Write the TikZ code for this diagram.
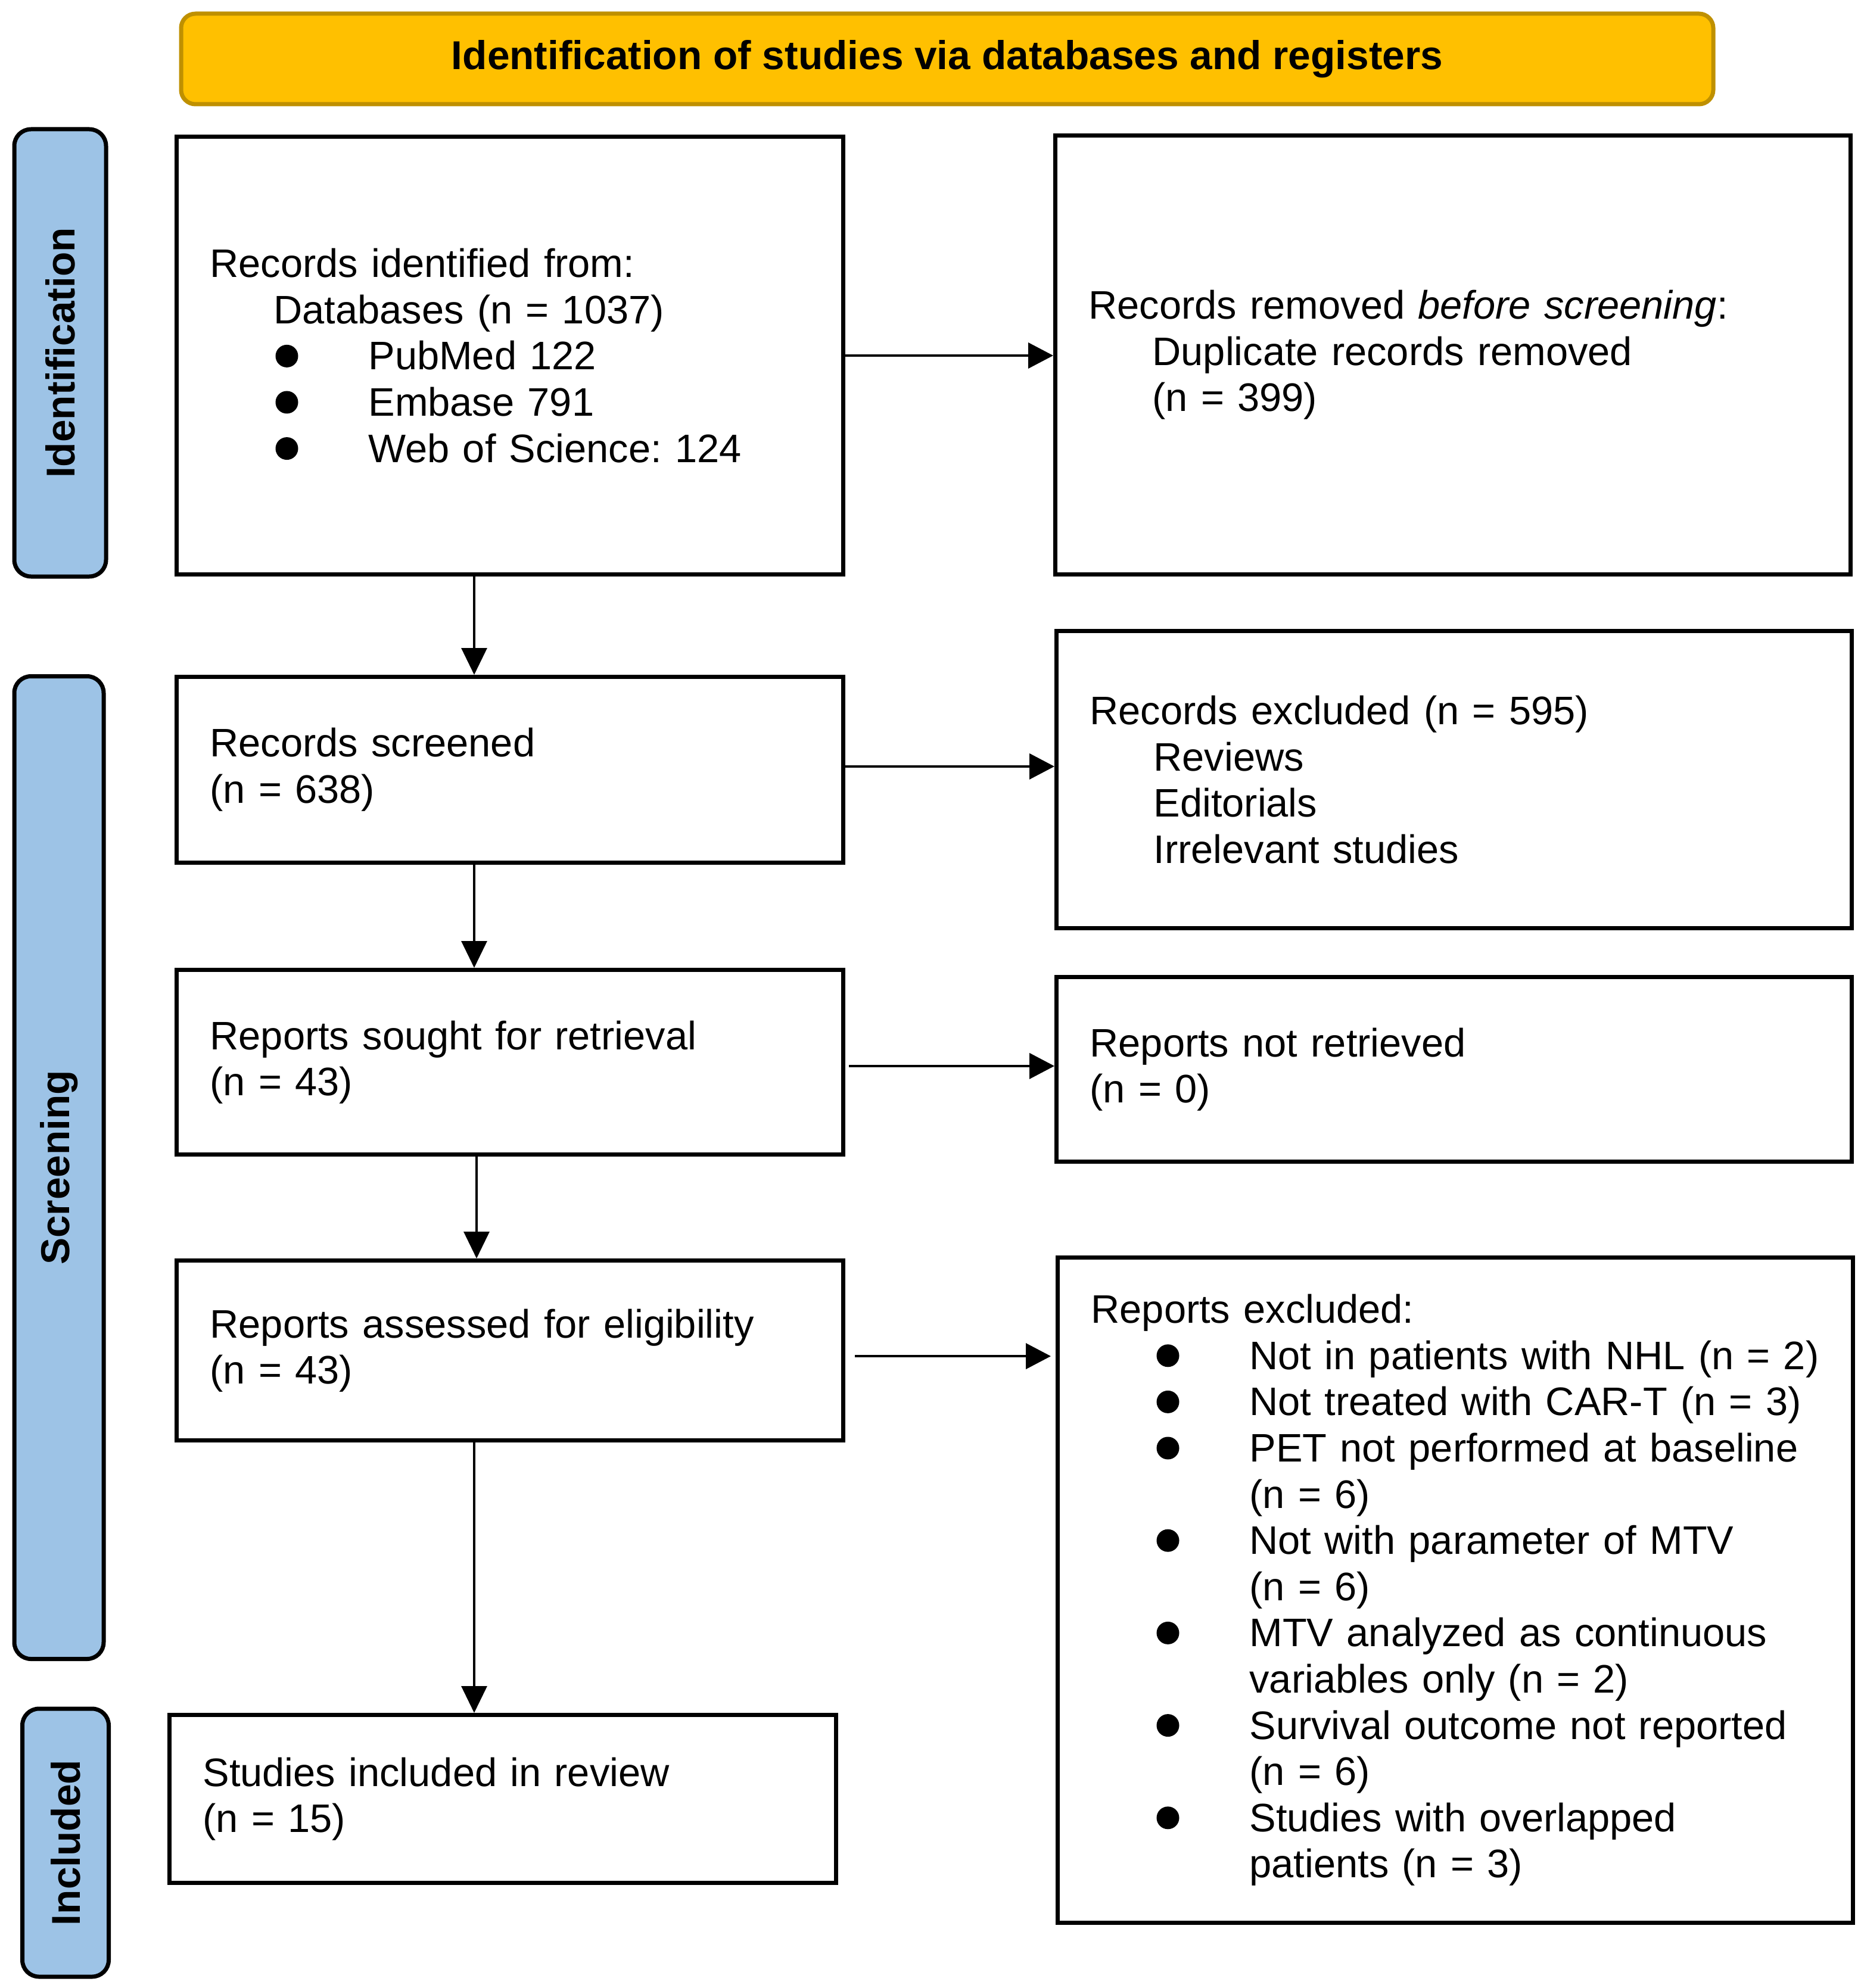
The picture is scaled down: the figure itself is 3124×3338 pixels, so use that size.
\documentclass[tikz,border=0pt]{standalone}
\usepackage{fontspec}
\setmainfont{Liberation Sans}
\usetikzlibrary{arrows.meta}
\definecolor{hdrfill}{HTML}{FFC000}
\definecolor{hdrline}{HTML}{BF9000}
\definecolor{sidefill}{HTML}{9DC3E6}
\frenchspacing
\newcommand{\bdot}{\tikz[baseline=0pt]\fill[black] (4.75pt,5.75pt) circle[radius=4.75pt];}
\newcommand{\bul}[1]{\hspace*{27.5pt}\makebox[39pt][l]{\bdot}\mbox{#1}}
\newcommand{\cont}[1]{\hspace*{66.5pt}\mbox{#1}}
\newcommand{\subl}[1]{\hspace*{26.75pt}\mbox{#1}}
\begin{document}
\begin{tikzpicture}[x=0.25pt,y=-0.25pt,
  every node/.style={font=\fontsize{16.7pt}{19.4pt}\selectfont},
  box/.style={draw=black, line width=1.75pt, fill=white, inner xsep=14pt, inner ysep=0pt, align=left, anchor=center},
  lbox/.style={box, minimum width=279.75pt, text width=251.75pt},
  rbox/.style={box, minimum width=333.75pt, text width=305.75pt},
  hdrbox/.style={draw=hdrline, fill=hdrfill, line width=1.75pt, rounded corners=6pt, font=\fontsize{16.9pt}{19.4pt}\selectfont\bfseries, minimum width=643pt, minimum height=38pt},
  side/.style={draw=black, fill=sidefill, line width=1.75pt, rounded corners=7pt, rotate=90, font=\fontsize{16.9pt}{19.4pt}\selectfont\bfseries, inner sep=0pt},
  arrV/.style={-{Triangle[length=11.25pt,width=10.75pt]}, line width=0.8pt},
  arrH/.style={-{Triangle[length=10.5pt,width=10.75pt]}, line width=1pt}
]
\useasboundingbox[fill=white] (0,0) rectangle (3124,3338);

\node[hdrbox] (hdr) at (1590,99) {Identification of studies via databases and registers};

\node[side, minimum width=187.75pt, minimum height=38.5pt] (sid) at (101,592.5) {Identification};
\node[side, minimum width=412.5pt, minimum height=37.5pt] (sscr) at (99,1960.5) {Screening};
\node[side, minimum width=112.5pt, minimum height=36.25pt] (sinc) at (110,3094) {Included};

\node[lbox, minimum height=183.75pt] (b1) at (856,597) {Records identified from:\\
\subl{Databases (n = 1037)}\\
\bul{PubMed 122}\\
\bul{Embase 791}\\
\bul{Web of Science: 124}};

\node[rbox, minimum height=184.25pt] (rem) at (2439,596) {Records removed \textit{before screening}:\\
\subl{Duplicate records removed}\\
\subl{(n = 399)}};

\node[lbox, minimum height=78pt] (scr) at (856,1292.5) {Records screened\\(n = 638)};

\node[rbox, minimum height=124.75pt] (excl) at (2441,1309) {Records excluded (n = 595)\\
\subl{Reviews}\\
\subl{Editorials}\\
\subl{Irrelevant studies}};

\node[lbox, minimum height=77.5pt] (sought) at (856,1783.5) {Reports sought for retrieval\\(n = 43)};

\node[rbox, minimum height=77.5pt] (nr) at (2441,1795.5) {Reports not retrieved\\(n = 0)};

\node[lbox, minimum height=75.5pt] (assess) at (856,2267.5) {Reports assessed for eligibility\\(n = 43)};

\node[rbox, minimum height=279.25pt] (rex) at (2443,2670) {Reports excluded:\\
\bul{Not in patients with NHL (n = 2)}\\
\bul{Not treated with CAR-T (n = 3)}\\
\bul{PET not performed at baseline}\\
\cont{(n = 6)}\\
\bul{Not with parameter of MTV}\\
\cont{(n = 6)}\\
\bul{MTV analyzed as continuous}\\
\cont{variables only (n = 2)}\\
\bul{Survival outcome not reported}\\
\cont{(n = 6)}\\
\bul{Studies with overlapped}\\
\cont{patients (n = 3)}};

\node[lbox, minimum height=70.5pt] (inc) at (844,3020.5) {Studies included in review\\(n = 15)};

% vertical connectors
\draw[arrV] ([xshift=-15pt]b1.south) -- ([xshift=-15pt]scr.north);
\draw[arrV] ([xshift=-15pt]scr.south) -- ([xshift=-15pt]sought.north);
\draw[arrV] ([xshift=-14pt]sought.south) -- ([xshift=-14pt]assess.north);
\draw[arrV] ([xshift=-15pt]assess.south) -- ([xshift=-12pt]inc.north);

% horizontal connectors
\draw[arrH] (b1.east) -- (b1.east -| rem.west);
\draw[arrH] ([yshift=1.4pt]scr.east) -- ([yshift=1.4pt]scr.east -| excl.west);
\draw[arrH] ([xshift=1.5pt,yshift=-1.6pt]sought.east) -- ([yshift=-1.6pt]sought.east -| nr.west);
\draw[arrH] ([xshift=4pt,yshift=-2.4pt]assess.east) -- ([xshift=-2pt,yshift=-2.4pt]assess.east -| rex.west);
\end{tikzpicture}
\end{document}
